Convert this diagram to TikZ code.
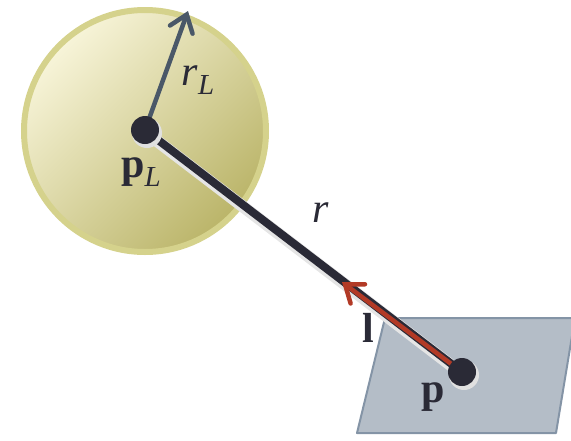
\documentclass[tikz,border=0pt]{standalone}
\usepackage{fontspec}
\setmainfont{Liberation Serif}
\usetikzlibrary{arrows.meta,calc}
\definecolor{rimcol}{HTML}{D5D28C}
\definecolor{lightsun}{HTML}{F8F5DA}
\definecolor{darksun}{HTML}{BAB468}
\definecolor{slate}{HTML}{4A5868}
\definecolor{inkcol}{HTML}{2A2A36}
\definecolor{redcol}{HTML}{B23A26}
\definecolor{planefill}{HTML}{B4BDC7}
\definecolor{planeedge}{HTML}{8494A6}
\tikzset{
  dotnode/.style={circle, fill=inkcol, minimum size=28pt, inner sep=0pt},
  lbl/.style={font=\fontsize{42}{44}\selectfont, text=inkcol, inner sep=0pt},
  barb/.style={-{Straight Barb[length=16pt,width=24pt,line cap=round]}, line cap=round}
}
\begin{document}
\begin{tikzpicture}[x=1pt,y=-1pt]
\useasboundingbox (0,0) rectangle (571,440);
% plane
\draw[fill=planefill, draw=planeedge, line width=2pt, line join=round]
  (385,318) -- (575,318) -- (556,433) -- (357,433) -- cycle;
% sphere
\shade[top color=lightsun, bottom color=darksun, shading angle=45]
  (145,131) circle[radius=123];
\draw[rimcol, line width=6pt] (145,131) circle[radius=121];
% points
\coordinate (pLc) at (145,130);
\coordinate (pc) at (462,372);
\coordinate (rtip) at (188,11);
\coordinate (ltip) at (342,282);
% soft shadows
\draw[black!10, line width=12pt, line cap=round] ($(pLc)+(1,2.5)$) -- ($(pc)+(1,2.5)$);
% connectors
\draw[inkcol, line width=8pt] (pLc) -- (pc);
\draw[barb, slate, line width=4.5pt] (pLc) -- (rtip);
\draw[barb, redcol, line width=4.5pt] (pc) -- (ltip);
% dots
\fill[black!12] (147,133) circle[radius=15];
\fill[black!12] (464,375) circle[radius=15];
\node[dotnode] (pL) at (pLc) {};
\node[dotnode] (p) at (pc) {};
% labels
\node[lbl] (rLlbl) at (198,80) {\itshape r\raisebox{-9pt}{\fontsize{29}{30}\selectfont L}};
\node[lbl] (pLlbl) at (141,172) {\bfseries p\raisebox{-9pt}{\fontsize{29}{30}\selectfont\mdseries\itshape L}};
\node[lbl] (rlbl) at (321,213) {\itshape r};
\node[lbl] (llbl) at (368,328) {\bfseries l};
\node[lbl] (plbl) at (433,397) {\bfseries p};
\end{tikzpicture}
\end{document}
